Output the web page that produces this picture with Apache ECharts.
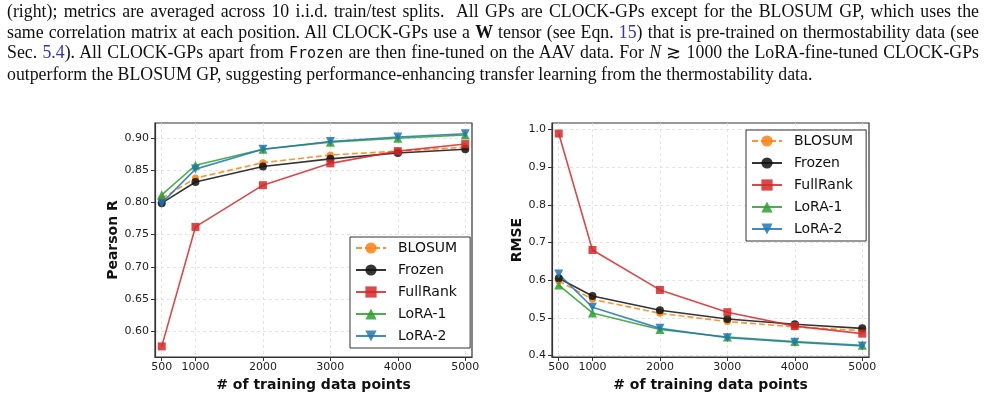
<!DOCTYPE html>
<html>
<head>
<meta charset="utf-8">
<script src="https://cdn.jsdelivr.net/npm/echarts@6/dist/echarts.min.js"></script>
<style>
  html, body { margin: 0; padding: 0; background: #fff; }
  #wrap { position: relative; width: 985px; height: 411px; overflow: hidden; }
  #chart { position: absolute; left: 0; top: 0; width: 985px; height: 411px; }
  #caption {
    position: absolute; left: 7px; top: 1px; width: 972px;
    font-family: "Liberation Serif", "Times New Roman", serif;
    font-size: 17.8px; line-height: 20.6px; color: #111;
  }
  #caption .ln { text-align: justify; text-align-last: justify; white-space: nowrap; }
  #caption .ln.last { text-align-last: left; }
  #caption a { color: #3333bb; text-decoration: none; }
  #caption tt { font-family: "DejaVu Sans Mono", monospace; font-size: 15px; }
</style>
</head>
<body>
<div id="wrap">
  <div id="chart"></div>
  <div id="caption">
    <div class="ln">(right); metrics are averaged across 10 i.i.d. train/test splits.&nbsp; All GPs are CLOCK-GPs except for the BLOSUM GP, which uses the</div>
    <div class="ln">same correlation matrix at each position. All CLOCK-GPs use a <b>W</b> tensor (see Eqn. <a>15</a>) that is pre-trained on thermostability data (see</div>
    <div class="ln">Sec. <a>5.4</a>). All CLOCK-GPs apart from <tt>Frozen</tt> are then fine-tuned on the AAV data. For <i>N</i> ≳ 1000 the LoRA-fine-tuned CLOCK-GPs</div>
    <div class="ln last">outperform the BLOSUM GP, suggesting performance-enhancing transfer learning from the thermostability data.</div>
  </div>
</div>
<script>
// training set sizes
var sizes = [500, 1000, 2000, 3000, 4000, 5000];
var xTicks = [500, 1000, 2000, 3000, 4000, 5000];
var rTicks = [0.60, 0.65, 0.70, 0.75, 0.80, 0.85, 0.90];
var rmseTicks = [0.4, 0.5, 0.6, 0.7, 0.8, 0.9, 1.0];

var names = ['BLOSUM', 'Frozen', 'FullRank', 'LoRA-1', 'LoRA-2'];

// Pearson R (left)
var rBlosum   = [0.806, 0.838, 0.862, 0.874, 0.880, 0.886];
var rFrozen   = [0.799, 0.832, 0.856, 0.868, 0.877, 0.883];
var rFullRank = [0.576, 0.762, 0.827, 0.861, 0.880, 0.891];
var rLora1    = [0.812, 0.858, 0.883, 0.894, 0.900, 0.905];
var rLora2    = [0.799, 0.852, 0.883, 0.895, 0.902, 0.907];

// RMSE (right)
var eBlosum   = [0.598, 0.549, 0.512, 0.490, 0.476, 0.466];
var eFrozen   = [0.605, 0.558, 0.520, 0.497, 0.483, 0.472];
var eFullRank = [0.989, 0.680, 0.574, 0.515, 0.478, 0.458];
var eLora1    = [0.587, 0.513, 0.469, 0.449, 0.437, 0.427];
var eLora2    = [0.616, 0.528, 0.472, 0.447, 0.435, 0.425];

var colors = ['#ff7f0e', '#111111', '#d62728', '#2ca02c', '#1f77b4'];
var symbols = ['circle', 'circle', 'rect', 'triangle', 'triangle'];
var symSize = [7, 8, 8, 9, 9];
var symRot = [0, 0, 0, 0, 180];

function pairs(vals) {
    return sizes.map(function (s, i) { return [s, vals[i]]; });
}

function makeSeries(sets, idx) {
    return sets.map(function (vals, i) {
        return {
            name: names[i],
            type: 'line',
            xAxisIndex: idx,
            yAxisIndex: idx,
            data: pairs(vals),
            symbol: symbols[i],
            symbolSize: symSize[i],
            symbolRotate: symRot[i],
            showAllSymbol: true,
            animation: false,
            color: colors[i],
            lineStyle: { width: 1.6, color: colors[i], opacity: 0.85, type: i === 0 ? [6, 3] : 'solid' },
            itemStyle: { color: colors[i], opacity: 0.85 },
            emphasis: { disabled: true }
        };
    });
}

var tickFont = { fontFamily: 'DejaVu Sans', fontSize: 11, color: '#222' };
var nameFont = { fontFamily: 'DejaVu Sans', fontSize: 14, fontWeight: 'bold', color: '#111' };

function xAxis(idx) {
    return {
        type: 'value', gridIndex: idx, min: 400, max: 5100,
        name: '# of training data points', nameLocation: 'middle', nameGap: 19,
        nameTextStyle: nameFont,
        axisLine: { show: true, onZero: false, lineStyle: { color: '#333', width: 1.2 } },
        axisTick: { show: true, length: 4, customValues: xTicks, lineStyle: { color: '#333' } },
        axisLabel: Object.assign({
            margin: 5, customValues: xTicks,
            formatter: function (v) { return String(v); }
        }, tickFont),
        splitLine: { show: true, lineStyle: { color: '#ddd', type: [3, 3], width: 0.8 } }
    };
}

function yAxis(idx, name, min, max, ticks, dec, gap) {
    return {
        type: 'value', gridIndex: idx, min: min, max: max,
        name: name, nameLocation: 'middle', nameGap: gap,
        nameTextStyle: nameFont,
        axisLine: { show: true, onZero: false, lineStyle: { color: '#333', width: 1.2 } },
        axisTick: { show: true, length: 4, customValues: ticks, lineStyle: { color: '#333' } },
        axisLabel: Object.assign({
            margin: 6, customValues: ticks,
            formatter: function (v) { return v.toFixed(dec); }
        }, tickFont),
        splitLine: { show: true, lineStyle: { color: '#ddd', type: [3, 3], width: 0.8 } }
    };
}

function legend(left, top) {
    return {
        data: names, orient: 'vertical', left: left, top: top,
        itemWidth: 30, itemHeight: 14, itemGap: 8,
        padding: [4, 13, 5, 5],
        borderColor: '#333', borderWidth: 1, borderRadius: 0,
        backgroundColor: '#fff',
        textStyle: { fontFamily: 'DejaVu Sans', fontSize: 14, color: '#111', padding: [0, 0, 0, 7] },
        selectedMode: false
    };
}

var chart = echarts.init(document.getElementById('chart'), null, { renderer: 'canvas' });

var option = {
    backgroundColor: 'transparent',
    animation: false,
    grid: [
        { left: 155, top: 123, width: 317, height: 234, show: true, borderColor: '#333', borderWidth: 1.2, containLabel: false },
        { left: 552, top: 123, width: 317, height: 234, show: true, borderColor: '#333', borderWidth: 1.2, containLabel: false }
    ],
    xAxis: [xAxis(0), xAxis(1)],
    yAxis: [
        yAxis(0, 'Pearson R', 0.5595, 0.9238, rTicks, 2, 29),
        yAxis(1, 'RMSE', 0.396, 1.017, rmseTicks, 1, 22)
    ],
    legend: [legend(350, 237), legend(746, 130)],
    series: makeSeries([rBlosum, rFrozen, rFullRank, rLora1, rLora2], 0)
        .concat(makeSeries([eBlosum, eFrozen, eFullRank, eLora1, eLora2], 1))
};

chart.setOption(option);
</script>
</body>
</html>
